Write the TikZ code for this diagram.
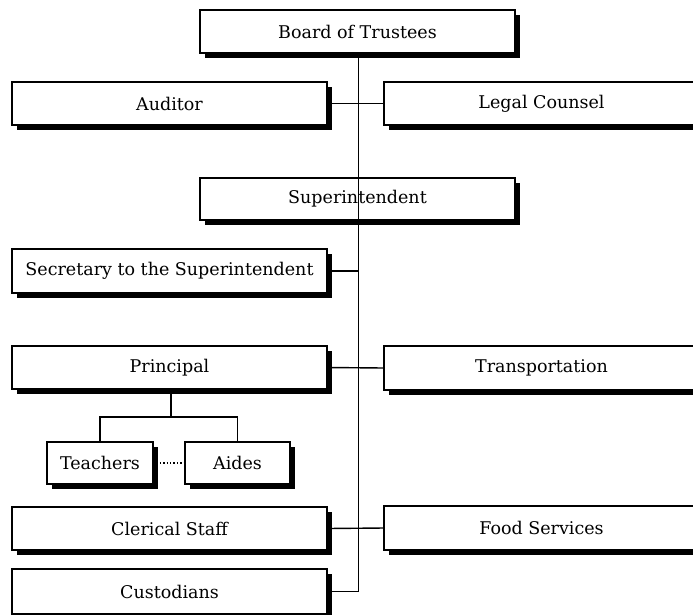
\documentclass[tikz,border=0pt]{standalone}
\usepackage{fontspec}
\setmainfont{DejaVu Serif}
\usetikzlibrary{shadows}
\tikzset{
  orgbox/.style={draw=black, line width=1.3pt, fill=white, rectangle,
    inner sep=0pt, outer sep=0pt, minimum height=43pt,
    font=\fontsize{17.5}{20}\selectfont,
    drop shadow={shadow xshift=4.5pt, shadow yshift=-5pt, fill=black, opacity=1}},
  wide/.style={orgbox, minimum width=315pt},
  small/.style={orgbox, minimum width=106pt, minimum height=42pt},
  conn/.style={draw=black, line width=1.4pt},
}
\begin{document}
\begin{tikzpicture}[x=1pt,y=-1pt]
\useasboundingbox (0,0) rectangle (693,614);
\fill[white] (0,0) rectangle (693,614);
\clip (0,0) rectangle (693,614);
\node[wide] (board) at (357.5,31.5) {Board of Trustees};
\node[wide] (auditor) at (169.5,103.5) {Auditor};
\node[wide] (legal) at (541.5,103.5) {Legal Counsel};
\node[wide, minimum height=42pt] (super) at (357.5,199) {Superintendent};
\node[wide, minimum height=44pt] (secretary) at (169.5,271) {Secretary to the Superintendent};
\node[wide] (principal) at (169.5,367.5) {Principal};
\node[wide, minimum height=44pt] (transport) at (541.5,368) {Transportation};
\node[small] (teachers) at (100,463) {Teachers};
\node[small, minimum width=105pt] (aides) at (237.5,463) {Aides};
\node[wide] (clerical) at (169.5,528.5) {Clerical Staff};
\node[wide, minimum height=44pt] (food) at (541.5,528) {Food Services};
\node[wide, minimum height=45pt] (custodians) at (169.5,591.5) {Custodians};
\coordinate (trunkend) at ([xshift=1pt]board.south |- custodians.east);
\draw[conn] ([xshift=1pt]board.south) -- (trunkend) -- (custodians.east);
\draw[conn] (auditor.east) -- (legal.west);
\draw[conn] (secretary.east) -- (secretary.east -| trunkend);
\draw[conn] (principal.east) -- (transport.west);
\draw[conn] (clerical.east) -- (food.west);
\draw[conn] ([xshift=1.5pt]principal.south) -- ++(0,28) coordinate (pj);
\draw[conn] (teachers.north) |- (pj) -| (aides.north);
\draw[conn, dotted] (teachers.east) -- (aides.west);
\end{tikzpicture}
\end{document}
